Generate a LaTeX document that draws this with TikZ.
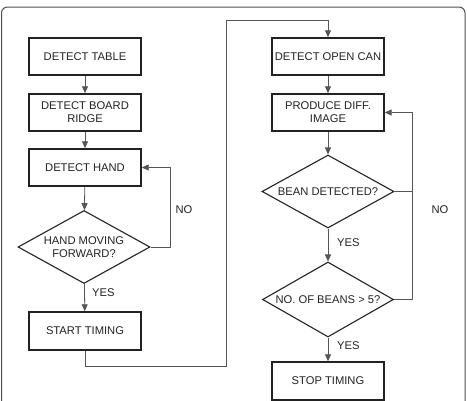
\documentclass[tikz,border=0pt]{standalone}
\usepackage{fontspec}
\setmainfont{Liberation Sans}
\usetikzlibrary{shapes.geometric,arrows.meta}
\definecolor{ink}{HTML}{222222}
\definecolor{wire}{HTML}{555555}
\begin{document}
\begin{tikzpicture}[x=1pt,y=-1pt,
  font=\fontsize{11.2}{13}\selectfont,
  stepbox/.style={draw=ink,line width=1.4pt,minimum width=112pt,minimum height=37pt,inner sep=0pt,align=center,text=ink},
  decision/.style={draw=ink,line width=1.1pt,diamond,minimum width=132pt,minimum height=73pt,inner sep=0pt},
  dtext/.style={align=center,text=ink,inner sep=0pt},
  wire/.style={draw=wire,line width=0.8pt},
  arr/.style={wire,-{Triangle[length=7pt,width=6pt]}},
  lbl/.style={text=ink,inner sep=0pt}]
\path[use as bounding box,clip] (0,0) rectangle (467,400);
\draw[draw=ink!80,line width=1pt,rounded corners=6pt] (1.5,7) rectangle (465,420);
% left column
\node[stepbox] (t1) at (85,56.5) {DETECT TABLE};
\node[stepbox] (t2) at (85,112.5) {DETECT BOARD\\RIDGE};
\node[stepbox] (t3) at (85,167.5) {DETECT HAND};
\node[decision] (d1) at (84,247) {};
\node[dtext] (d1t) at (d1.center) {HAND MOVING\\FORWARD?};
\node[stepbox,minimum height=38pt] (t4) at (85,331) {START TIMING};
% right column
\node[stepbox] (r1) at (328,56.5) {DETECT OPEN CAN};
\node[stepbox] (r2) at (328,112.5) {PRODUCE DIFF.\\IMAGE};
\node[decision] (d2) at (328,191.5) {};
\node[dtext] (d2t) at (d2.center) {BEAN DETECTED?};
\node[decision,minimum width=131pt,minimum height=75pt] (d3) at (328,299.5) {};
\node[dtext] (d3t) at (d3.center) {NO. OF BEANS > 5?};
\node[stepbox,minimum height=38pt] (r3) at (328,381) {STOP TIMING};
% coordinates
\coordinate (c1) at (170,247);
\coordinate (c2) at (85,366);
\coordinate (c3) at (226,366);
\coordinate (c4) at (226,20);
\coordinate (c5) at (328,20);
\coordinate (c6) at (412,191.5);
\coordinate (c7) at (412,299.5);
% connectors
\draw[arr] (t1) -- (t2);
\draw[arr] (t2) -- (t3);
\draw[arr] (t3) -- (d1);
\draw[arr] (d1) -- (t4);
\draw[arr] (d1.east) -- (c1) |- (t3.east);
\draw[arr] (t4.south) -- (c2) -- (c3) -- (c4) -- (c5) -- (r1.north);
\draw[arr] (r1) -- (r2);
\draw[arr] (r2) -- (d2);
\draw[arr] (d2) -- (d3);
\draw[arr] (d3) -- (r3);
\draw[wire] (d2.east) -- (c6);
\draw[arr] (d3.east) -- (c7) |- (r2.east);
% labels
\node[lbl,anchor=west] (y1) at (92,293) {YES};
\node[lbl] (n1) at (184,210) {NO};
\node[lbl,anchor=west] (y2) at (337,243) {YES};
\node[lbl,anchor=west] (y3) at (337,346) {YES};
\node[lbl] (n2) at (440,210) {NO};
\end{tikzpicture}
\end{document}
